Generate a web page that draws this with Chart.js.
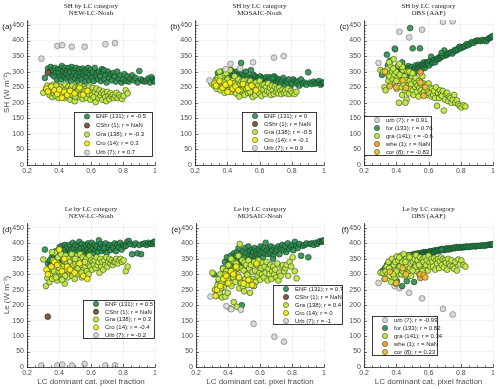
<!DOCTYPE html>
<html><head><meta charset="utf-8">
<script src="https://cdn.jsdelivr.net/npm/chart.js@4.4.1/dist/chart.umd.min.js"></script>
<style>
html,body{margin:0;padding:0;background:#fff;}
#stage{position:relative;width:500px;height:389px;overflow:hidden;}
#stage canvas{position:absolute;left:0;top:0;}
</style></head>
<body><div id="stage"></div>
<script>
// ---------------- DATA ----------------
const xTicks = [0.2, 0.4, 0.6, 0.8, 1];
const yTicks = [0, 50, 100, 150, 200, 250, 300, 350, 400, 450];

// LC dominant category pixel fraction (x) per category
const enfX = [0.312,0.331,0.342,0.348,0.355,0.361,0.368,0.373,0.381,0.388,
  0.393,0.398,0.404,0.409,0.414,0.418,0.423,0.428,0.433,0.437,
  0.442,0.447,0.451,0.456,0.461,0.466,0.471,0.475,0.48,0.486,
  0.491,0.496,0.502,0.507,0.511,0.516,0.521,0.527,0.532,0.537,
  0.542,0.547,0.552,0.557,0.562,0.567,0.572,0.577,0.582,0.588,
  0.593,0.598,0.604,0.611,0.617,0.623,0.629,0.636,0.642,0.649,
  0.656,0.662,0.669,0.676,0.683,0.691,0.698,0.706,0.714,0.722,
  0.731,0.739,0.748,0.756,0.764,0.773,0.782,0.791,0.8,0.809,
  0.818,0.827,0.836,0.846,0.857,0.868,0.879,0.891,0.902,0.913,
  0.924,0.936,0.947,0.958,0.969,0.978,0.987,0.993,1.0,0.681];
const graX = [0.302,0.318,0.327,0.334,0.341,0.347,0.352,0.358,0.363,0.369,
  0.374,0.379,0.384,0.389,0.394,0.398,0.403,0.408,0.413,0.417,
  0.422,0.427,0.432,0.436,0.441,0.446,0.451,0.455,0.46,0.465,
  0.47,0.474,0.479,0.484,0.489,0.493,0.498,0.503,0.508,0.513,
  0.518,0.523,0.528,0.533,0.538,0.543,0.548,0.553,0.558,0.564,
  0.569,0.574,0.579,0.585,0.59,0.596,0.601,0.607,0.612,0.618,
  0.624,0.629,0.635,0.641,0.647,0.653,0.659,0.665,0.671,0.677,
  0.683,0.689,0.695,0.702,0.708,0.715,0.722,0.729,0.736,0.743,
  0.751,0.759,0.767,0.776,0.785,0.794,0.804,0.817,0.829,0.401,
  0.438,0.482,0.521,0.356,0.381,0.457,0.501,0.541,0.419,0.562];
const croX = [0.322,0.331,0.352,0.371,0.389,0.402,0.418,0.433,0.451,0.469,0.497,0.528,0.551,0.578];
const urbX = [0.29,0.39,0.42,0.48,0.56,0.69,0.75];
const cshrX = [0.33];
const wheX = [0.55];
const corX = [0.33,0.36,0.40,0.44,0.46,0.55,0.57,0.58];

// (a) SH, NEW-LC-Noah
const shNewEnf = [280,310,300,315,292,305,285,312,298,275, 308,296,285,310,275,318,290,302,283,312,
  295,278,305,290,312,282,300,270,315,288, 305,296,278,312,288,270,300,308,285,296,
  275,310,290,300,268,305,285,295,312,272, 290,306,280,298,270,312,288,295,276,300,
  285,270,308,298,276,290,265,300,282,292, 272,295,285,268,300,278,288,265,275,292,
  270,285,268,278,288,272,280,265,302,275, 270,268,272,278,265,282,275,270,268,305];
const shNewGra = [232,245,255,238,225,250,240,218,258,230, 248,222,242,235,255,215,245,230,252,238,
  225,250,240,215,258,232,245,220,252,236, 210,245,230,255,222,240,205,250,235,228,
  248,218,238,255,226,242,212,250,232,222, 245,215,236,228,252,210,240,225,248,218,
  235,202,245,228,215,240,222,232,210,236, 228,218,205,235,222,212,230,220,225,215,
  222,232,215,225,218,212,222,240,230,240, 230,225,242,248,255,238,220,244,228,236];
const shNewCro = [245,236,252,240,228,242,216,235,225,238,230,248,226,238];
const shNewUrb = [342,383,385,380,380,388,392];
const shNewCshr = [297];

// (b) SH, MOSAIC-Noah
const shMosEnf = [262,275,295,270,288,258,300,278,265,292, 280,300,262,285,295,270,305,278,260,290,
  275,298,260,285,300,268,290,255,300,328, 295,280,262,290,272,300,258,285,270,278,
  262,305,280,270,290,258,285,275,265,280, 275,268,285,262,280,270,278,265,282,272,
  268,282,275,260,270,285,262,278,268,275, 262,272,280,258,270,265,275,250,262,275,
  270,262,268,255,275,262,265,258,298,265, 260,268,262,265,270,258,262,265,265,280];
const shMosGra = [262,255,270,245,280,258,300,240,265,285, 250,270,232,262,295,248,278,240,258,305,
  235,268,250,272,242,285,255,230,262,245, 275,220,258,245,268,235,262,250,225,272,
  245,262,232,255,240,270,228,258,218,262, 248,225,265,240,255,232,270,245,222,258,
  242,258,228,250,238,262,235,248,225,255, 240,228,252,235,245,230,248,238,228,242,
  232,240,230,245,228,238,232,228,235,275, 262,240,255,282,265,248,270,235,258,250];
const shMosCro = [262,255,270,248,258,235,265,245,252,240,260,248,255,240];
const shMosUrb = [272,308,325,310,330,345,350];
const shMosCshr = [270];

// (c) SH, OBS (AAF)
const shObsFor = [290,300,355,320,285,335,300,280,310,295, 372,288,305,295,320,282,300,310,290,330,
  298,290,312,300,285,305,295,318,310,440, 300,315,375,305,295,310,320,302,312,322,
  315,375,320,308,325,318,330,312,322,330, 325,330,320,335,348,328,332,338,330,340,
  340,345,342,348,350,350,368,352,355,358, 360,362,358,365,370,368,372,380,375,378,
  380,382,388,385,390,395,392,398,400,400, 398,402,400,398,405,408,410,412,415,360];
const shObsGra = [305,300,250,240,295,310,270,285,320,260, 300,275,340,290,265,300,245,280,320,200,
  290,270,250,225,305,260,285,240,272,210, 300,255,230,270,245,260,285,240,225,270,
  250,265,235,255,220,248,268,240,258,230, 262,235,250,225,258,240,262,230,248,220,
  245,225,238,215,250,190,232,215,240,228, 222,238,175,210,228,232,205,220,215,200,
  210,225,200,208,195,190,185,192,188,270, 315,300,280,330,310,200,295,270,325,285];
const shObsUrb = [328,375,428,410,435,460,462];
const shObsWhe = [298];
const shObsCor = [300,253,250,272,248,265,222,250];

// (d) Le, NEW-LC-Noah
const leNewEnf = [380,335,345,330,355,340,362,348,375,335, 365,345,388,355,375,392,360,340,380,395,
  370,352,390,365,345,395,372,358,380,402, 385,360,395,372,348,390,378,405,362,385,
  398,370,355,388,375,395,362,380,400,372, 392,378,402,385,368,395,380,390,372,410,
  385,398,375,392,380,400,370,388,395,378, 392,385,400,375,395,388,402,380,395,390,
  392,405,408,398,365,395,400,368,395,365, 398,400,395,402,398,400,398,405,405,385];
const leNewGra = [348,262,288,310,275,300,325,285,345,310, 370,295,340,280,355,310,330,290,365,285,
  325,300,345,270,360,315,335,290,350,305, 340,310,365,295,330,350,285,335,315,360,
  320,345,300,365,330,290,355,315,340,325, 350,310,335,300,360,325,345,315,340,330,
  345,320,355,330,340,305,350,325,340,315, 345,330,355,325,340,350,335,345,330,340,
  340,350,335,345,350,340,345,310,325,320, 295,310,335,372,290,325,350,305,282,340];
const leNewCro = [315,300,325,340,330,380,310,350,325,315,305,335,295,285];
const leNewUrb = [5,5,8,5,10,5,5];
const leNewCshr = [163];

// (e) Le, MOSAIC-Noah
const leMosEnf = [300,245,275,290,230,255,320,300,340,310, 355,310,335,295,345,360,322,350,305,368,
  335,360,318,372,345,385,330,365,350,200, 340,375,355,385,330,368,345,390,360,375,
  350,380,362,372,345,385,358,375,365,352, 380,365,390,372,355,385,368,402,378,365,
  385,370,390,378,360,385,372,380,390,365, 385,395,378,392,372,400,382,390,395,378,
  405,392,385,398,360,392,395,400,355,398, 400,395,402,398,405,408,405,408,410,350];
const leMosGra = [305,250,230,265,285,240,300,270,225,318, 258,292,228,310,270,240,330,285,190,305,
  262,345,290,210,315,275,335,195,300,360, 255,398,320,282,345,260,312,338,285,330,
  300,265,345,320,240,330,285,308,262,340, 312,275,330,295,345,305,282,320,300,338,
  290,325,305,340,280,318,300,330,285,310, 325,300,315,290,335,280,305,295,325,330,
  310,320,330,295,340,325,355,310,287,280, 305,272,298,255,300,320,245,278,350,262];
const leMosCro = [230,250,262,285,295,272,310,300,325,290,270,282,265,335];
const leMosUrb = [228,197,187,185,140,98,82];
const leMosCshr = [240];

// (f) Le, OBS (AAF)
const leObsFor = [310,320,330,325,340,335,328,345,338,332, 345,340,278,350,338,342,352,345,355,262,
  348,355,345,358,350,278,360,352,362,355, 358,362,352,365,275,358,365,360,368,362,
  365,358,368,362,370,365,372,368,365,372, 370,368,372,375,370,374,376,372,378,375,
  378,375,380,378,382,380,378,382,384,380, 384,382,385,386,384,388,386,388,386,388,
  388,388,390,388,390,390,392,390,392,392, 392,394,392,394,395,396,396,397,397,380];
const leObsGra = [305,305,285,310,325,300,340,295,318,275, 350,305,330,290,340,270,358,315,345,300,
  325,360,300,345,310,365,320,295,350,330, 305,345,360,320,335,295,355,340,318,350,
  330,362,310,345,325,300,355,338,318,350, 340,315,355,330,345,312,360,338,325,350,
  340,325,352,315,345,335,350,320,342,355, 330,348,322,345,338,315,350,335,328,345,
  325,318,340,312,348,332,345,330,325,310, 340,355,325,320,300,340,312,330,355,310];
const leObsUrb = [272,262,255,240,222,188,170];
const leObsWhe = [288];
const leObsCor = [285,308,272,320,300,300,298,290];

// legend labels
const legA = ['ENF (131); r = -0.5','CShr (1); r = NaN','Gra (138); r = -0.3','Cro (14); r = 0.3','Urb (7); r = 0.7'];
const legB = ['ENF (131); r = 0','CShr (1); r = NaN','Gra (138); r = -0.5','Cro (14); r = -0.1','Urb (7); r = 0.9'];
const legC = ['urb (7); r = 0.91','for (133); r = 0.76','gra (141); r = -0.6','whe (1); r = NaN','cor (8); r = -0.83'];
const legD = ['ENF (131); r = 0.5','CShr (1); r = NaN','Gra (138); r = 0.3','Cro (14); r = -0.4','Urb (7); r = -0.2'];
const legE = ['ENF (131); r = 0.7','CShr (1); r = NaN','Gra (138); r = 0.4','Cro (14); r = 0','Urb (7); r = -1'];
const legF = ['urb (7); r = -0.99','for (133); r = 0.82','gra (141); r = 0.34','whe (1); r = NaN','cor (8); r = 0.23'];

// ---------------- STYLES ----------------
const STY = {
  enf:  {bg:'rgba(40,138,74,0.88)', bd:'#173a22'},
  cshr: {bg:'#7d5d45', bd:'#2e2218'},
  gra:  {bg:'#c0e84c', bd:'#3d4a18'},
  cro:  {bg:'#f2ee1c', bd:'#4d4a10'},
  urb:  {bg:'#d8d8d8', bd:'#6b6b6b'},
  whe:  {bg:'#f2a33a', bd:'#5a3a10'},
  cor:  {bg:'#e6c03e', bd:'#5a4a10'}
};

function pts(xs, ys){ return xs.map((v,i)=>({x:v, y:ys[i]})); }

const panels = [
  {tag:'(a)', title:['SH by LC category','NEW-LC-Noah'], L:27,R:155,T:20,B:165, ylab:'SH (W m\u207B\u00B2)', xlab:null,
   legend:{x:74,y:112,w:79,h:45},
   series:[['enf',enfX,shNewEnf,legA[0]],['cshr',cshrX,shNewCshr,legA[1]],['gra',graX,shNewGra,legA[2]],['cro',croX,shNewCro,legA[3]],['urb',urbX,shNewUrb,legA[4]]]},
  {tag:'(b)', title:['SH by LC category','MOSAIC-Noah'], L:195,R:324,T:20,B:165, ylab:null, xlab:null,
   legend:{x:242,y:112,w:75,h:40},
   series:[['enf',enfX,shMosEnf,legB[0]],['cshr',cshrX,shMosCshr,legB[1]],['gra',graX,shMosGra,legB[2]],['cro',croX,shMosCro,legB[3]],['urb',urbX,shMosUrb,legB[4]]]},
  {tag:'(c)', title:['SH by LC category','OBS (AAF)'], L:364,R:493,T:20,B:165, ylab:null, xlab:null,
   legend:{x:364,y:116,w:68,h:40},
   series:[['urb',urbX,shObsUrb,legC[0]],['enf',enfX,shObsFor,legC[1]],['gra',graX,shObsGra,legC[2]],['whe',wheX,shObsWhe,legC[3]],['cor',corX,shObsCor,legC[4]]]},
  {tag:'(d)', title:['Le by LC category','NEW-LC-Noah'], L:27,R:155,T:223,B:367, ylab:'Le (W m\u207B\u00B2)', xlab:'LC dominant cat. pixel fraction',
   legend:{x:83,y:300,w:72,h:39},
   series:[['enf',enfX,leNewEnf,legD[0]],['cshr',cshrX,leNewCshr,legD[1]],['gra',graX,leNewGra,legD[2]],['cro',croX,leNewCro,legD[3]],['urb',urbX,leNewUrb,legD[4]]]},
  {tag:'(e)', title:['Le by LC category','MOSAIC-Noah'], L:196,R:324,T:223,B:367, ylab:null, xlab:'LC dominant cat. pixel fraction',
   legend:{x:273,y:285,w:70,h:40},
   series:[['enf',enfX,leMosEnf,legE[0]],['cshr',cshrX,leMosCshr,legE[1]],['gra',graX,leMosGra,legE[2]],['cro',croX,leMosCro,legE[3]],['urb',urbX,leMosUrb,legE[4]]]},
  {tag:'(f)', title:['Le by LC category','OBS (AAF)'], L:364,R:493,T:223,B:367, ylab:null, xlab:'LC dominant cat. pixel fraction',
   legend:{x:372,y:316,w:66,h:40},
   series:[['urb',urbX,leObsUrb,legF[0]],['enf',enfX,leObsFor,legF[1]],['gra',graX,leObsGra,legF[2]],['whe',wheX,leObsWhe,legF[3]],['cor',corX,leObsCor,legF[4]]]}
];

// ---------------- PLUGIN ----------------
const extras = {
  id:'extras',
  afterDraw(chart, args, o){
    const {ctx, chartArea:a, scales:{x, y}} = chart;
    ctx.save();
    // inward major/minor ticks
    ctx.strokeStyle = '#262626'; ctx.lineWidth = 0.7;
    ctx.beginPath();
    for (let v = 0; v <= 460; v += 10){
      const p = Math.round(y.getPixelForValue(v)) + 0.5;
      const len = (v % 50 === 0) ? 3 : 1.6;
      ctx.moveTo(a.left, p); ctx.lineTo(a.left + len, p);
    }
    for (let i = 0; i <= 16; i++){
      const v = 0.2 + i * 0.05;
      const p = Math.round(x.getPixelForValue(v)) + 0.5;
      const len = (i % 4 === 0) ? 3 : 1.6;
      ctx.moveTo(p, a.bottom); ctx.lineTo(p, a.bottom - len);
    }
    ctx.stroke();
    // titles
    const cx = (a.left + a.right) / 2;
    ctx.fillStyle = '#1a1a1a';
    ctx.font = '7px "Liberation Serif", "DejaVu Serif", serif';
    ctx.textAlign = 'center'; ctx.textBaseline = 'middle';
    ctx.fillText(o.title[0], cx, a.top - 13.5);
    ctx.fillText(o.title[1], cx, a.top - 6.5);
    // panel tag
    ctx.font = '8px "Liberation Sans", Arial, sans-serif';
    ctx.textAlign = 'right';
    ctx.fillStyle = '#111';
    ctx.fillText(o.tag, a.left - 15, a.top + 7);
    // legend box
    const lg = o.legend;
    ctx.fillStyle = '#fff';
    ctx.fillRect(lg.x, lg.y, lg.w, lg.h);
    ctx.strokeStyle = '#262626'; ctx.lineWidth = 0.9;
    ctx.strokeRect(lg.x + 0.5, lg.y + 0.5, lg.w - 1, lg.h - 1);
    const ds = chart.data.datasets;
    ctx.font = '6px "Liberation Sans", Arial, sans-serif';
    ctx.textAlign = 'left';
    ds.forEach((d, i) => {
      const ry = lg.y + (i + 0.5) * lg.h / ds.length;
      ctx.beginPath();
      ctx.arc(lg.x + 13, ry, 2.6, 0, Math.PI * 2);
      ctx.fillStyle = d.backgroundColor; ctx.fill();
      ctx.lineWidth = 0.6; ctx.strokeStyle = d.borderColor; ctx.stroke();
      ctx.fillStyle = '#1a1a1a';
      ctx.fillText(d.label, lg.x + 22, ry + 0.3);
    });
    ctx.restore();
  }
};

// ---------------- BUILD ----------------
const stage = document.getElementById('stage');
const W = 500, H = 389;
panels.forEach(p => {
  const cv = document.createElement('canvas');
  cv.width = W; cv.height = H;
  cv.style.width = W + 'px'; cv.style.height = H + 'px';
  stage.appendChild(cv);
  const n = p.series.length;
  const datasets = p.series.map((s, i) => ({
    label: s[3],
    data: pts(s[1], s[2]),
    backgroundColor: STY[s[0]].bg,
    borderColor: STY[s[0]].bd,
    borderWidth: 0.6,
    pointRadius: 2.9,
    order: n - i
  }));
  const yW = 27;
  const xH = p.xlab ? 22 : 12;
  new Chart(cv.getContext('2d'), {
    type: 'scatter',
    data: { datasets },
    options: {
      responsive: false, animation: false, devicePixelRatio: 1,
      events: [],
      layout: { padding: { left: p.L - yW, right: W - p.R, top: p.T, bottom: H - p.B - xH } },
      plugins: { legend: {display:false}, tooltip: {enabled:false}, title:{display:false},
        extras: { title: p.title, tag: p.tag, legend: p.legend } },
      scales: {
        x: {
          type: 'linear', min: xTicks[0], max: xTicks[xTicks.length-1],
          afterFit: s => { s.height = xH; },
          afterBuildTicks: s => { s.ticks = xTicks.map(v => ({value:v})); },
          ticks: { padding: 2, color: '#4d4d4d', font: {size: 7, family: '"Liberation Sans", Arial, sans-serif'},
            callback: v => String(+(+v).toFixed(2)), maxRotation: 0, autoSkip: false },
          grid: { color: 'rgba(0,0,0,0.09)', lineWidth: 0.6, drawTicks: false },
          border: { display: true, color: '#262626', width: 0.8 },
          title: { display: !!p.xlab, text: p.xlab || '', color: '#4d4d4d',
            font: {size: 8, family: '"Liberation Sans", Arial, sans-serif'}, padding: {top:0, bottom:2} }
        },
        y: {
          type: 'linear', min: 0, max: 466,
          afterFit: s => { s.width = yW; },
          afterBuildTicks: s => { s.ticks = yTicks.map(v => ({value:v})); },
          ticks: { padding: 3, color: '#4d4d4d', font: {size: 7, family: '"Liberation Sans", Arial, sans-serif'} },
          grid: { color: 'rgba(0,0,0,0.09)', lineWidth: 0.6, drawTicks: false },
          border: { display: true, color: '#262626', width: 0.8 },
          title: { display: !!p.ylab, text: p.ylab || '', color: '#4d4d4d',
            font: {size: 8, family: '"Liberation Sans", Arial, sans-serif'}, padding: {top:2, bottom:0} }
        }
      }
    },
    plugins: [extras]
  });
});
</script>
</body></html>
